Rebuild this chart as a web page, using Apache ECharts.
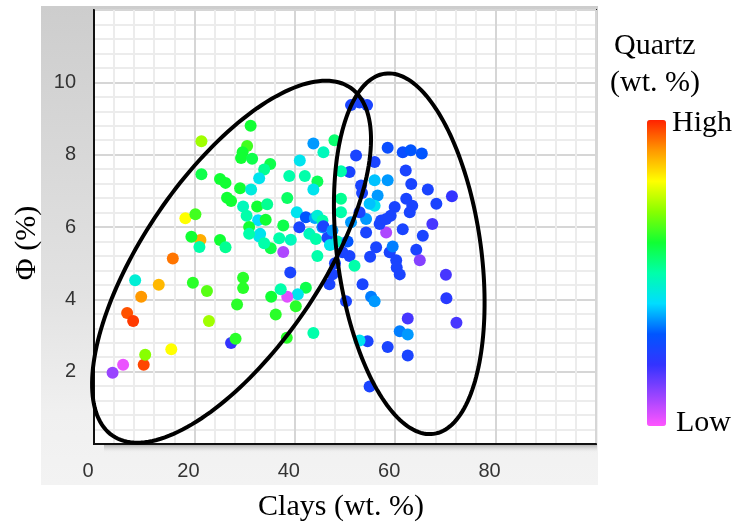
<!DOCTYPE html>
<html>
<head>
<meta charset="utf-8">
<script src="https://cdn.jsdelivr.net/npm/echarts@6/dist/echarts.min.js"></script>
<style>
  html, body { margin: 0; padding: 0; background: #fff; }
  #main { width: 736px; height: 527px; }
</style>
</head>
<body>
<div id="main"></div>
<script>
// clays (wt. %), porosity (%), quartz (0 = low, 100 = high) per sample
var clays = [
  3.7, 5.8, 9.9, 10.2, 15.4, 6.6, 7.8, 9.4, 12.9, 8.2, 15.7, 19.7, 22.5, 22.9, 21.2, 19.4, 21.0, 21.4, 21.4, 18.2,
  20.2, 31.2, 30.5, 29.6, 29.3, 31.5, 35.1, 33.9, 32.9, 38.9, 25.1, 26.2, 29.1, 31.3, 26.5, 27.3, 29.7, 32.5, 34.5, 38.5,
  30.4, 32.7, 34.2, 30.9, 37.7, 40.4, 40.9, 33.1, 47.9, 43.7, 45.7, 41.0, 42.0, 44.5, 43.7, 42.2, 44.0, 42.9, 44.2, 45.5,
  37.7, 39.2, 36.9, 35.2, 32.9, 30.9, 49.2, 50.9, 52.2, 49.2, 51.2, 52.9, 54.4,
  58.5, 61.5, 63.1, 65.3, 62.1, 58.5, 55.9, 63.2, 66.5, 71.3, 68.2, 62.2, 63.4, 55.9, 53.2, 56.5, 55.9, 59.9, 62.9, 59.1,
  54.2, 57.2, 61.5, 67.4, 58.2, 65.5, 56.2, 58.9, 64.2, 59.5, 55.0, 60.2, 64.9, 60.3, 60.9, 70.1, 70.2, 72.2, 55.2, 55.9,
  62.5, 60.9, 62.5, 54.5, 58.5, 62.5, 54.9,
  50.9, 51.9, 46.9, 53.5, 50.2, 43.7, 52.9, 44.5, 42.2, 40.6, 40.2, 47.5, 29.7, 29.7, 28.5, 35.3, 36.2, 38.5, 39.1, 37.2,
  38.4, 27.3, 28.2, 33.9, 25.1, 26.2, 49.2, 53.4, 44.5, 45.5, 45.7, 52.9, 51.2, 54.2, 54.9, 56.9, 58.2,
  46.5, 47.5, 48.5, 49.5, 47.0, 48.0, 50.5
];
var porosity = [
  1.97, 2.19, 2.19, 2.47, 2.62, 3.62, 3.40, 4.07, 4.40, 4.53, 5.13, 4.46, 4.23, 3.40, 5.64, 5.73, 5.45, 8.37, 7.46, 6.24,
  6.35, 8.80, 8.24, 8.07, 7.91, 7.89, 7.74, 7.59, 7.35, 7.41, 7.33, 7.22, 7.07, 7.04, 6.81, 6.72, 6.57, 6.57, 6.63, 6.80,
  6.31, 6.19, 6.20, 6.00, 6.04, 6.41, 5.99, 5.81, 8.40, 8.31, 8.07, 7.84, 7.41, 7.26, 7.04, 6.27, 6.25, 5.81, 5.67, 5.99,
  5.31, 5.65, 5.69, 5.41, 5.74, 5.81, 6.78, 7.52, 7.98, 6.41, 9.37, 9.44, 9.37,
  8.19, 8.07, 8.12, 8.03, 7.56, 7.29, 7.80, 7.19, 7.04, 6.85, 6.64, 6.78, 6.59, 7.29, 7.15, 6.87, 6.59, 6.55, 6.41, 6.31,
  6.22, 6.18, 5.94, 6.08, 5.85, 5.76, 5.44, 5.30, 5.37, 5.46, 5.18, 5.08, 5.08, 4.88, 4.69, 4.68, 4.03, 3.35, 4.07, 3.95,
  3.47, 3.12, 3.03, 2.84, 2.68, 2.45, 1.59,
  5.20, 4.93, 4.42, 4.42, 3.95, 3.07, 2.86, 5.20, 4.32, 4.14, 3.81, 4.69, 4.60, 4.31, 3.86, 4.07, 3.58, 4.07, 4.74, 4.28,
  2.94, 2.79, 2.91, 5.55, 5.64, 5.44, 7.54, 6.94, 6.31, 6.18, 6.02, 6.41, 6.13, 5.85, 6.64, 6.08, 6.22,
  5.70, 5.90, 5.60, 5.30, 5.50, 5.00, 5.60
];
var quartz = [
  10, 2, 97, 70, 80, 96, 98, 90, 87, 45, 93, 62, 66, 72, 88, 60, 50, 72, 58, 80,
  64, 60, 64, 60, 60, 58, 58, 52, 42, 50, 60, 60, 60, 44, 60, 60, 48, 60, 52, 56,
  50, 40, 60, 60, 58, 42, 25, 42, 55, 35, 48, 42, 50, 57, 42, 30, 36, 48, 50, 35,
  8, 48, 50, 58, 42, 50, 52, 25, 25, 50, 25, 25, 25,
  28, 28, 30, 30, 25, 35, 25, 25, 25, 20, 25, 25, 25, 38, 25, 35, 42, 25, 25, 25,
  35, 25, 25, 18, 8, 25, 25, 25, 25, 33, 25, 25, 12, 25, 25, 18, 22, 18, 33, 35,
  18, 33, 35, 25, 25, 25, 25,
  25, 50, 25, 25, 25, 50, 42, 50, 58, 42, 62, 25, 62, 62, 62, 60, 62, 3, 25, 50,
  62, 20, 62, 50, 60, 52, 50, 25, 45, 50, 25, 25, 35, 25, 38, 25, 25,
  25, 35, 48, 25, 42, 25, 30
];

// ellipses: centre (x, y) and two half-axis vectors, in data units
var ellipseCentres = [[27.4, 5.04], [62.8, 5.26]];
var ellipseAxisU = [[23.7, 4.81], [-4.85, 4.98]];
var ellipseAxisV = [[-14.5, 1.38], [-14.2, -0.27]];

var xTicks = [0, 20, 40, 60, 80];
var yTicks = [2, 4, 6, 8, 10];

var quartzColors = ['#ff55ff', '#9944ff', '#3333ff', '#0055ff', '#00ddff', '#00ffaa',
  '#11ff33', '#88ff00', '#ffff00', '#ff9900', '#ff2200'];

var points = [];
clays.forEach(function (c, i) {
  points.push([c, porosity[i], quartz[i]]);
});
var ellipses = [];
ellipseCentres.forEach(function (c, i) {
  ellipses.push([c[0], c[1], ellipseAxisU[i][0], ellipseAxisU[i][1], ellipseAxisV[i][0], ellipseAxisV[i][1]]);
});

var serif = 'Liberation Serif';
var chart = echarts.init(document.getElementById('main'));
chart.setOption({
  animation: false,
  backgroundColor: '#fff',
  graphic: [
    {
      type: 'rect', z: -100,
      shape: { x: 41, y: 6, width: 557, height: 479 },
      style: {
        fill: new echarts.graphic.LinearGradient(0, 0, 0, 1, [
          { offset: 0, color: '#cdcdcd' },
          { offset: 0.6, color: '#e2e2e2' },
          { offset: 0.85, color: '#f0f0f0' },
          { offset: 1, color: '#f3f3f3' }
        ])
      }
    },
    {
      type: 'rect', z: -50,
      shape: { x: 104, y: 445, width: 493, height: 8 },
      style: {
        fill: new echarts.graphic.LinearGradient(0, 0, 0, 1, [
          { offset: 0, color: '#b5b5b5' },
          { offset: 1, color: 'rgba(240,240,240,0)' }
        ])
      }
    },
    { type: 'text', x: 614, y: 46, style: { text: 'Quartz', font: '30px ' + serif, fill: '#000', textVerticalAlign: 'middle' } },
    { type: 'text', x: 610, y: 83, style: { text: '(wt. %)', font: '30px ' + serif, fill: '#000', textVerticalAlign: 'middle' } },
    { type: 'text', x: 672, y: 123, style: { text: 'High', font: '30px ' + serif, fill: '#000', textVerticalAlign: 'middle' } },
    { type: 'text', x: 676, y: 423, style: { text: 'Low', font: '30px ' + serif, fill: '#000', textVerticalAlign: 'middle' } },
    { type: 'text', x: 341, y: 507, style: { text: 'Clays (wt. %)', font: '30px ' + serif, fill: '#000', textAlign: 'center', textVerticalAlign: 'middle' } },
    { type: 'text', x: 27, y: 243, rotation: Math.PI / 2, style: { text: 'Φ (%)', font: '30px ' + serif, fill: '#000', textAlign: 'center', textVerticalAlign: 'middle' } }
  ],
  grid: {
    left: 94, top: 10, width: 502, height: 434,
    show: true, backgroundColor: '#fff', borderColor: '#222', borderWidth: 2
  },
  xAxis: {
    type: 'value', min: 0, max: 100, interval: 20,
    axisLine: { lineStyle: { color: '#111', width: 2 } },
    axisTick: { show: false },
    axisLabel: {
      margin: 17, color: '#333', fontSize: 20, fontFamily: 'Liberation Sans',
      padding: [0, 12, 0, 0],
      formatter: function (v) { return xTicks.indexOf(v) >= 0 ? String(v) : ''; }
    },
    splitLine: { lineStyle: { color: '#d6d6d6', width: 2 } },
    minorTick: { show: false, splitNumber: 5 },
    minorSplitLine: { show: true, lineStyle: { color: '#ececec', width: 2 } }
  },
  yAxis: {
    type: 'value', min: 0, max: 12, interval: 2,
    axisLine: { lineStyle: { color: '#111', width: 2 } },
    axisTick: { show: false },
    axisLabel: {
      margin: 18, color: '#333', fontSize: 20, fontFamily: 'Liberation Sans',
      formatter: function (v) { return yTicks.indexOf(v) >= 0 ? String(v) : ''; }
    },
    splitLine: { lineStyle: { color: '#d6d6d6', width: 2 } },
    minorTick: { show: false, splitNumber: 5 },
    minorSplitLine: { show: true, lineStyle: { color: '#ececec', width: 2 } }
  },
  visualMap: {
    type: 'continuous',
    seriesIndex: 0,
    dimension: 2,
    min: 0, max: 100,
    left: 647, top: 120,
    padding: 0,
    itemWidth: 19, itemHeight: 306,
    calculable: false,
    text: null,
    showLabel: false,
    inRange: { color: quartzColors }
  },
  series: [
    {
      type: 'scatter',
      data: points,
      symbol: 'circle',
      symbolSize: 12,
      itemStyle: { opacity: 1 },
      z: 2
    },
    {
      type: 'custom',
      data: ellipses,
      encode: { x: 0, y: 1 },
      clip: false,
      silent: true,
      z: 5,
      renderItem: function (params, api) {
        var cx = api.value(0), cy = api.value(1);
        var ux = api.value(2), uy = api.value(3);
        var vx = api.value(4), vy = api.value(5);
        var pts = [];
        for (var i = 0; i < 180; i++) {
          var t = i / 180 * Math.PI * 2;
          pts.push(api.coord([cx + ux * Math.cos(t) + vx * Math.sin(t), cy + uy * Math.cos(t) + vy * Math.sin(t)]));
        }
        return {
          type: 'polygon',
          shape: { points: pts },
          style: { fill: 'none', stroke: '#000', lineWidth: 4 }
        };
      }
    }
  ]
});
</script>
</body>
</html>
